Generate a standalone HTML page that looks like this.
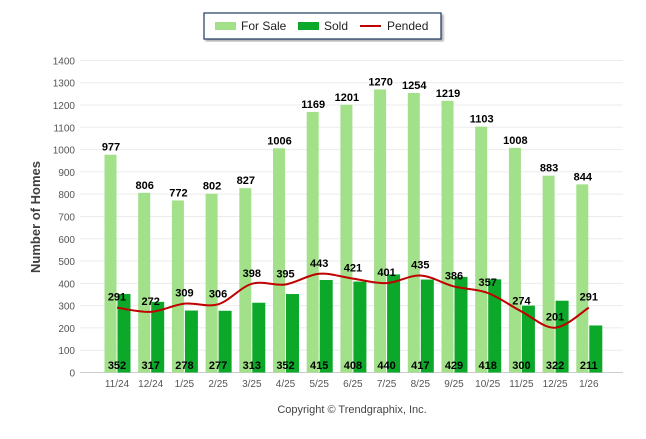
<!DOCTYPE html>
<html><head><meta charset="utf-8"><style>
body{margin:0;background:#fff;width:646px;height:434px;overflow:hidden;font-family:"Liberation Sans",Arial,sans-serif}
</style></head><body>
<svg id="c" width="646" height="434" xmlns="http://www.w3.org/2000/svg">
<defs><filter id="sh"><feDropShadow dx="2" dy="2" stdDeviation="1" flood-color="#888" flood-opacity="0.7"/></filter></defs>
<g>
<rect x="204" y="13" width="237" height="26" fill="#fff" stroke="#1f3864" stroke-width="1.2" filter="url(#sh)"/>
<rect x="215" y="22" width="21" height="8" fill="#a2e08a"/>
<text x="241" y="30" font-size="12" fill="#222">For Sale</text>
<rect x="298" y="22" width="21" height="8" fill="#0ca82a"/>
<text x="324" y="30" font-size="12" fill="#222">Sold</text>
<line x1="360" y1="26" x2="381" y2="26" stroke="#c00000" stroke-width="2"/>
<text x="387" y="30" font-size="12" fill="#222">Pended</text>
</g>
<g id="grid"></g><g id="bars"></g><g id="line"></g><g id="labels"></g>
<text x="40" y="217" transform="rotate(-90 40 217)" text-anchor="middle" font-size="13" font-weight="bold" fill="#404040">Number of Homes</text>
<text x="352" y="413" text-anchor="middle" font-size="11" fill="#444">Copyright © Trendgraphix, Inc.</text>
</svg>
<script>
const categories=["11/24","12/24","1/25","2/25","3/25","4/25","5/25","6/25","7/25","8/25","9/25","10/25","11/25","12/25","1/26"];
const forSale=[977,806,772,802,827,1006,1169,1201,1270,1254,1219,1103,1008,883,844];
const sold=[352,317,278,277,313,352,415,408,440,417,429,418,300,322,211];
const pended=[291,272,309,306,398,395,443,421,401,435,386,357,274,201,291];
const yTicks=[0,100,200,300,400,500,600,700,800,900,1000,1100,1200,1300,1400];
const NS="http://www.w3.org/2000/svg";
const y=v=>372.5-v*0.2229;
const x=i=>117+i*33.7;
function mk(tag,attrs,parent,txt){const e=document.createElementNS(NS,tag);for(const k in attrs)e.setAttribute(k,attrs[k]);if(txt!==undefined)e.textContent=txt;document.getElementById(parent).appendChild(e);return e;}
yTicks.forEach(t=>{
 const l=mk('line',{x1:80,x2:623,y1:y(t),y2:y(t),stroke:t===0?'#ccc':'#ebebeb','stroke-width':1},'grid');
 
 
 const tx=mk('text',{x:75,y:y(t)+4,'text-anchor':'end','font-size':10,fill:'#555'},'grid',t);
 
 
});
categories.forEach((c,i)=>{
 const b1=mk('rect',{x:x(i)-12.5,y:y(forSale[i]),width:12,height:y(0)-y(forSale[i]),fill:'#a2e08a'},'bars');
 
 
 const b2=mk('rect',{x:x(i)+0.5,y:y(sold[i]),width:13,height:y(0)-y(sold[i]),fill:'#0ca82a'},'bars');
 
 
 const xl=mk('text',{x:x(i),y:387,'text-anchor':'middle','font-size':10,fill:'#555'},'labels',c);
 
 
 const fl=mk('text',{x:x(i)-6,y:y(forSale[i])-4,'text-anchor':'middle','font-size':11,'font-weight':'bold',fill:'#000'},'labels',forSale[i]);
 
 
 const sl=mk('text',{x:x(i),y:369,'text-anchor':'middle','font-size':11,'font-weight':'bold',fill:'#000'},'labels',sold[i]);
 
 
 const pl=mk('text',{x:x(i),y:y(pended[i])-7,'text-anchor':'middle','font-size':11,'font-weight':'bold',fill:'#000'},'labels',pended[i]);
 
 
});
// smooth line (Catmull-Rom)
const pts=pended.map((v,i)=>[x(i),y(v)]);
let d=`M${pts[0][0]},${pts[0][1]}`;
for(let i=0;i<pts.length-1;i++){
 const p0=pts[Math.max(i-1,0)],p1=pts[i],p2=pts[i+1],p3=pts[Math.min(i+2,pts.length-1)];
 const c1=[p1[0]+(p2[0]-p0[0])/6,p1[1]+(p2[1]-p0[1])/6],c2=[p2[0]-(p3[0]-p1[0])/6,p2[1]-(p3[1]-p1[1])/6];
 d+=` C${c1[0]},${c1[1]} ${c2[0]},${c2[1]} ${p2[0]},${p2[1]}`;
}
const ln=mk('path',{d:d,fill:'none',stroke:'#c00000','stroke-width':2},'line');


</script>
</body></html>
